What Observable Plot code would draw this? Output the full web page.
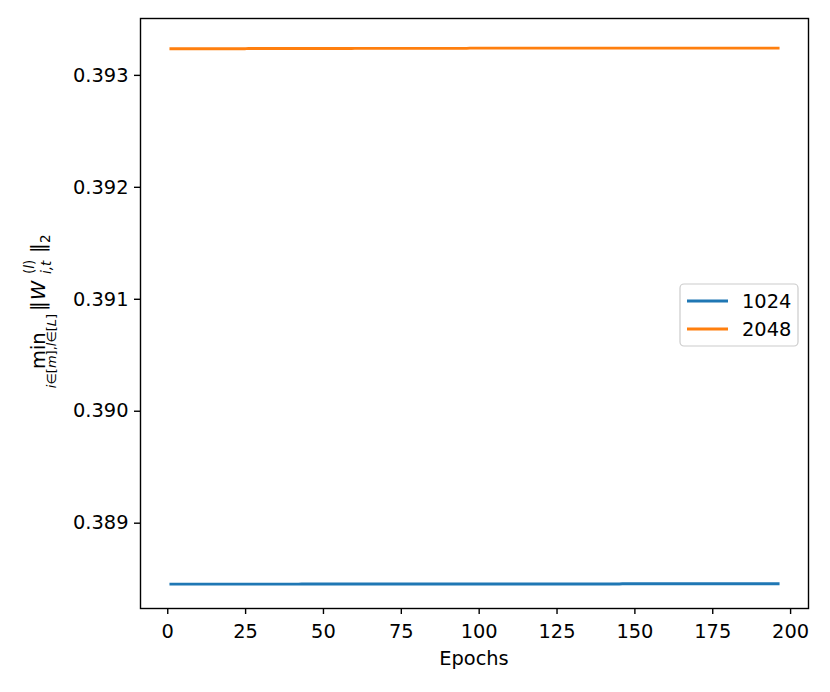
<!DOCTYPE html>
<html>
<head>
<meta charset="utf-8">
<script src="https://cdn.jsdelivr.net/npm/d3@7"></script>
<script src="https://cdn.jsdelivr.net/npm/@observablehq/plot@0.6"></script>
<style>
  html, body { margin: 0; padding: 0; background: white; }
</style>
</head>
<body>
<div id="chart"></div>
<script>
// Series names and colours
const seriesNames = ["1024", "2048"];
const seriesColors = ["#1f77b4", "#ff7f0e"];

// Tick values
const xTicks = [0, 25, 50, 75, 100, 125, 150, 175, 200];
const yTicks = [0.389, 0.390, 0.391, 0.392, 0.393];

// Values per epoch (epochs 1..196)
const values1024 = [
  0.388455,0.388455,0.388455,0.388455,0.388455,0.388455,0.388455,0.388455,0.388455,0.388455,
  0.388455,0.388455,0.388455,0.388455,0.388455,0.388455,0.388455,0.388455,0.388455,0.388455,
  0.388455,0.388455,0.388455,0.388455,0.388455,0.388455,0.388455,0.388455,0.388455,0.388455,
  0.388455,0.388455,0.388455,0.388455,0.388455,0.388455,0.388455,0.388455,0.388455,0.388455,
  0.388455,0.388455,0.388457,0.388457,0.388457,0.388457,0.388457,0.388457,0.388457,0.388457,
  0.388457,0.388457,0.388457,0.388457,0.388457,0.388457,0.388457,0.388457,0.388457,0.388457,
  0.388457,0.388457,0.388457,0.388457,0.388457,0.388457,0.388457,0.388457,0.388457,0.388457,
  0.388457,0.388457,0.388457,0.388457,0.388457,0.388457,0.388457,0.388457,0.388457,0.388457,
  0.388457,0.388457,0.388457,0.388457,0.388457,0.388457,0.388457,0.388457,0.388457,0.388457,
  0.388457,0.388457,0.388457,0.388457,0.388457,0.388457,0.388457,0.388457,0.388457,0.388457,
  0.388457,0.388457,0.388457,0.388457,0.388457,0.388457,0.388457,0.388457,0.388457,0.388457,
  0.388457,0.388457,0.388457,0.388457,0.388457,0.388457,0.388457,0.388457,0.388457,0.388457,
  0.388457,0.388457,0.388457,0.388457,0.388457,0.388457,0.388457,0.388457,0.388457,0.388457,
  0.388457,0.388457,0.388457,0.388457,0.388457,0.388457,0.388457,0.388457,0.388457,0.388457,
  0.388457,0.388457,0.388457,0.388457,0.388457,0.388459,0.388459,0.388459,0.388459,0.388459,
  0.388459,0.388459,0.388459,0.388459,0.388459,0.388459,0.388459,0.388459,0.388459,0.388459,
  0.388459,0.388459,0.388459,0.388459,0.388459,0.388459,0.388459,0.388459,0.388459,0.388459,
  0.388459,0.388459,0.388459,0.388459,0.388459,0.388459,0.388459,0.388459,0.388459,0.388459,
  0.388459,0.388459,0.388459,0.388459,0.388459,0.388459,0.388459,0.388459,0.388459,0.388459,
  0.388459,0.388459,0.388459,0.388459,0.388459,0.388459
];
const values2048 = [
  0.393238,0.393238,0.393238,0.393238,0.393238,0.393238,0.393238,0.393238,0.393238,0.393238,
  0.393238,0.393238,0.393238,0.393238,0.393238,0.393238,0.393238,0.393238,0.393238,0.393238,
  0.393238,0.393238,0.393238,0.393238,0.393238,0.393240,0.393240,0.393240,0.393240,0.393240,
  0.393240,0.393240,0.393240,0.393240,0.393240,0.393240,0.393240,0.393240,0.393240,0.393240,
  0.393240,0.393240,0.393240,0.393240,0.393240,0.393240,0.393240,0.393240,0.393240,0.393240,
  0.393240,0.393240,0.393240,0.393240,0.393240,0.393240,0.393240,0.393240,0.393240,0.393242,
  0.393242,0.393242,0.393242,0.393242,0.393242,0.393242,0.393242,0.393242,0.393242,0.393242,
  0.393242,0.393242,0.393242,0.393242,0.393242,0.393242,0.393242,0.393242,0.393242,0.393242,
  0.393242,0.393242,0.393242,0.393242,0.393242,0.393242,0.393242,0.393242,0.393242,0.393242,
  0.393242,0.393242,0.393242,0.393242,0.393242,0.393242,0.393244,0.393244,0.393244,0.393244,
  0.393244,0.393244,0.393244,0.393244,0.393244,0.393244,0.393244,0.393244,0.393244,0.393244,
  0.393244,0.393244,0.393244,0.393244,0.393244,0.393244,0.393244,0.393244,0.393244,0.393244,
  0.393244,0.393244,0.393244,0.393244,0.393244,0.393244,0.393244,0.393244,0.393244,0.393244,
  0.393244,0.393244,0.393244,0.393244,0.393244,0.393244,0.393244,0.393244,0.393244,0.393244,
  0.393244,0.393244,0.393244,0.393244,0.393244,0.393244,0.393244,0.393244,0.393244,0.393244,
  0.393244,0.393244,0.393244,0.393244,0.393244,0.393244,0.393244,0.393244,0.393244,0.393244,
  0.393244,0.393244,0.393244,0.393244,0.393244,0.393244,0.393244,0.393244,0.393244,0.393244,
  0.393244,0.393244,0.393244,0.393244,0.393244,0.393244,0.393244,0.393244,0.393244,0.393244,
  0.393244,0.393244,0.393244,0.393244,0.393244,0.393244,0.393244,0.393244,0.393244,0.393244,
  0.393244,0.393244,0.393244,0.393244,0.393244,0.393244
];

const rows = [];
[values1024, values2048].forEach((vals, s) => {
  vals.forEach((v, i) => rows.push({epoch: i + 1, value: v, series: seriesNames[s]}));
});

const W = 830, H = 692;
const mL = 140, mR = 22, mT = 18, mB = 84;
const FS = 19.4;

const chart = Plot.plot({
  width: W, height: H,
  marginLeft: mL, marginRight: mR, marginTop: mT, marginBottom: mB,
  style: {fontFamily: "'DejaVu Sans', sans-serif", fontSize: FS + "px", color: "black", background: "white"},
  x: {domain: [-8.75, 205.75]},
  y: {domain: [0.388238, 0.393508]},
  color: {domain: seriesNames, range: seriesColors},
  marks: [
    Plot.line(rows, {x: "epoch", y: "value", z: "series", stroke: "series", strokeWidth: 2.8, strokeLinecap: "square"}),
    Plot.frame({stroke: "black", strokeWidth: 1.4}),
    Plot.axisX({ticks: xTicks, tickSize: 6, tickPadding: 10, strokeWidth: 1.4, label: null, tickFormat: d => String(d), fontSize: FS}),
    Plot.axisY({ticks: yTicks, tickSize: 6, tickPadding: 6, strokeWidth: 1.4, label: null, tickFormat: d3.format(".3f"), fontSize: FS})
  ]
});
document.getElementById("chart").appendChild(chart);

const svg = d3.select(chart);
const font = "'DejaVu Sans', sans-serif";

// X label
svg.append("text")
  .attr("x", (mL + (W - mR)) / 2).attr("y", 665)
  .attr("text-anchor", "middle").attr("font-family", font).attr("font-size", FS)
  .attr("fill", "black").text("Epochs");

// Y label (math), rotated
const cy = (mT + (H - mB)) / 2;
const g = svg.append("g").attr("transform", `translate(45,${cy}) rotate(-90)`)
  .attr("font-family", font).attr("fill", "black").attr("text-anchor", "start");
g.append("text").attr("x", -56).attr("y", 0).attr("font-size", FS).text("min");
const sub = g.append("text").attr("x", -38).attr("y", 11).attr("font-size", 13).attr("text-anchor", "middle");
sub.append("tspan").attr("font-style", "italic").text("i");
sub.append("tspan").text("\u2208[");
sub.append("tspan").attr("font-style", "italic").text("m");
sub.append("tspan").text("],");
sub.append("tspan").attr("font-style", "italic").text("l");
sub.append("tspan").text("\u2208[");
sub.append("tspan").attr("font-style", "italic").text("L");
sub.append("tspan").text("]");
g.append("text").attr("x", 2).attr("y", 0).attr("font-size", FS).text("\u2016");
g.append("text").attr("x", 13).attr("y", 0).attr("font-size", FS).attr("font-style", "italic").text("W");
const sup = g.append("text").attr("x", 39).attr("y", -11).attr("font-size", 13.5);
sup.append("tspan").text("(");
sup.append("tspan").attr("font-style", "italic").text("l");
sup.append("tspan").text(")");
g.append("text").attr("x", 39).attr("y", 6).attr("font-size", 13.5).attr("font-style", "italic").text("i,t");
g.append("text").attr("x", 60).attr("y", 0).attr("font-size", FS).text("\u2016");
g.append("text").attr("x", 70).attr("y", 5).attr("font-size", 13.5).text("2");

// Legend
const lg = svg.append("g").attr("font-family", font).attr("text-anchor", "start");
lg.append("rect").attr("x", 680).attr("y", 284).attr("width", 118).attr("height", 62)
  .attr("rx", 4).attr("fill", "white").attr("fill-opacity", 0.8).attr("stroke", "#cccccc").attr("stroke-width", 1.2);
seriesNames.forEach((name, i) => {
  const y = 301 + i * 28;
  lg.append("line").attr("x1", 687).attr("x2", 728).attr("y1", y).attr("y2", y)
    .attr("stroke", seriesColors[i]).attr("stroke-width", 2.8);
  lg.append("text").attr("x", 742).attr("y", y + 7).attr("font-size", FS).attr("fill", "black").text(name);
});
</script>
</body>
</html>
